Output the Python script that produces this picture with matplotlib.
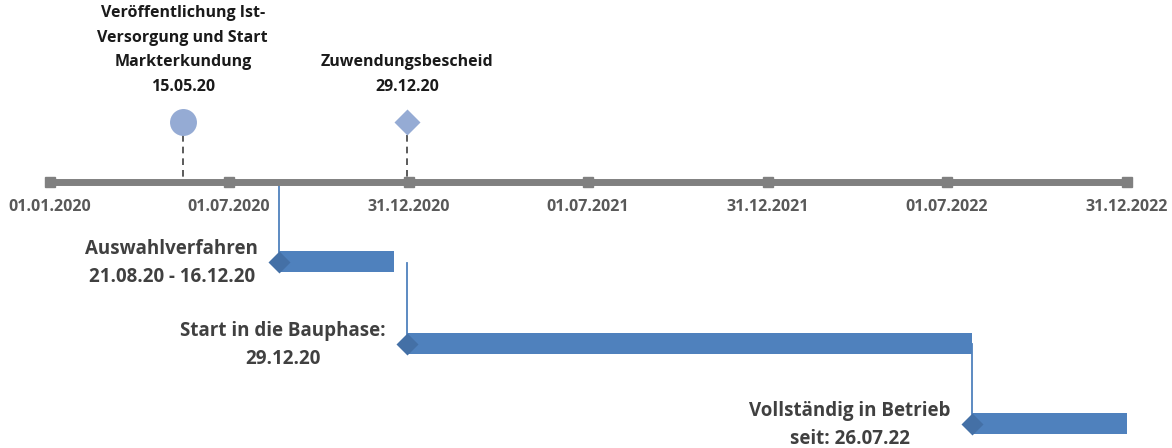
import numpy as np
import matplotlib.pyplot as plt
import matplotlib.dates as mdates
from datetime import date, timedelta

plt.rcParams['font.family'] = ['Open Sans', 'DejaVu Sans']

# axis ticks
tick_dates = [date(2020, 1, 1), date(2020, 7, 1), date(2020, 12, 31), date(2021, 7, 1),
              date(2021, 12, 31), date(2022, 7, 1), date(2022, 12, 31)]
tick_labels = ['01.01.2020', '01.07.2020', '31.12.2020', '01.07.2021',
               '31.12.2021', '01.07.2022', '31.12.2022']

# milestones above the axis
ms_dates = [date(2020, 5, 15), date(2020, 12, 29)]
ms_labels = ['Veröffentlichung Ist-\nVersorgung und Start\nMarkterkundung\n15.05.20',
             'Zuwendungsbescheid\n29.12.20']
ms_markers = ['o', 'D']

# phases below the axis
ph_start = [date(2020, 8, 21), date(2020, 12, 29), date(2022, 7, 26)]
ph_end = [date(2020, 12, 16), date(2022, 7, 26), date(2022, 12, 31)]
ph_labels = ['Auswahlverfahren\n21.08.20 - 16.12.20',
             'Start in die Bauphase:\n29.12.20',
             'Vollständig in Betrieb\nseit: 26.07.22']

fig = plt.figure(figsize=(11.72, 4.48), dpi=100)
ax = fig.add_axes([0, 0, 1, 1])
ax.axis('off')

d0 = mdates.date2num(tick_dates[0])
d1 = mdates.date2num(tick_dates[-1])
ppd = (1127 - 50) / (d1 - d0)  # pixels per day
ax.set_xlim(d0 - 50 / ppd, d1 + (1172 - 1127) / ppd)
ax.set_ylim(448, 0)

axis_y = 182
gray = '#808080'
ax.plot([d0, d1], [axis_y, axis_y], color=gray, lw=5, solid_capstyle='butt', zorder=2)
tx = mdates.date2num(tick_dates)
ax.plot(tx, [axis_y] * len(tx), 's', color=gray, ms=7.3, zorder=3)
for x, lab in zip(tx, tick_labels):
    ax.text(x, 207, lab, ha='center', va='center', fontsize=11.5, fontweight='bold', color='#595959')

# milestones
for d, lab, m in zip(ms_dates, ms_labels, ms_markers):
    x = mdates.date2num(d)
    ax.plot([x, x], [135, axis_y - 3], color='#404040', lw=1.2, ls=(0, (4, 3)), zorder=1)
    ax.plot(x, 122, m, color='#95abd4', ms=19.4 if m == 'o' else 13.7, mec='none', zorder=4)
    ax.text(x, 95, lab, ha='center', va='bottom', fontsize=11.5, fontweight='bold',
            color='#1a1a1a', linespacing=1.72)

# phases
bar_y = [262, 344, 424]
prev_y = [axis_y + 3, 263, 344]
blue = '#4f81bd'
for s, e, lab, y, py in zip(ph_start, ph_end, ph_labels, bar_y, prev_y):
    xs = mdates.date2num(s)
    xe = mdates.date2num(e)
    ax.plot([xs, xs], [py, y - 10], color=blue, lw=1.3, zorder=1)
    ax.barh(y, xe - xs, left=xs, height=21, color=blue, zorder=2)
    ax.plot(xs, y, 'D', color='#4470a6', ms=11.7, mec='none', zorder=3)
    ax.text(xs - 21 / ppd, y + 1, lab, ha='right', va='center', fontsize=13.5, fontweight='bold',
            color='#404040', linespacing=1.5, multialignment='center')

fig.savefig('out.png', dpi=100)
